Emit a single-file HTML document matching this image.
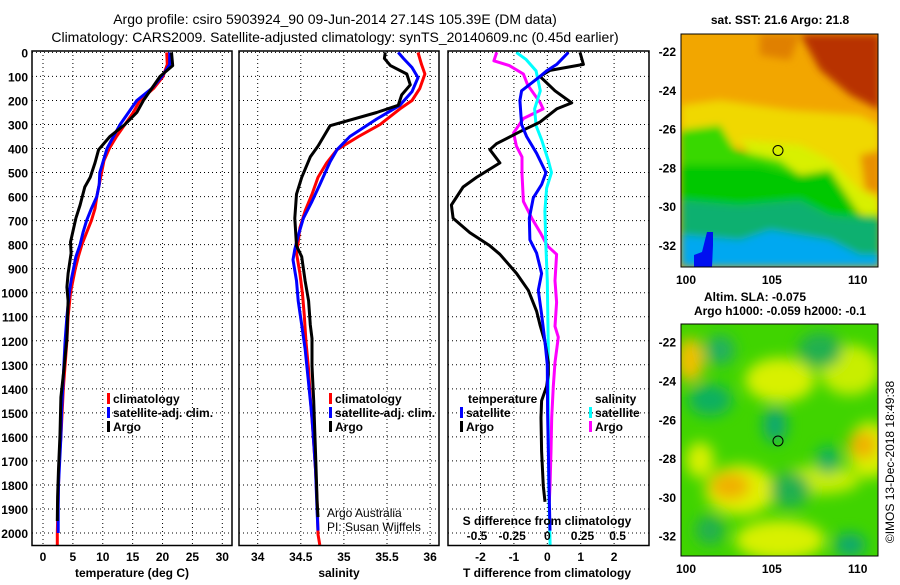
<!DOCTYPE html>
<html><head><meta charset="utf-8"><style>
body{margin:0;background:#fff;}
svg text{font-family:"Liberation Sans",sans-serif;}
.b{font-weight:bold;font-size:12px;}
</style></head><body>
<svg id="c" width="900" height="580" xmlns="http://www.w3.org/2000/svg">
<defs>
<filter id="bl" x="-30%" y="-30%" width="160%" height="160%"><feGaussianBlur stdDeviation="7"/></filter>
<filter id="bl2" x="-20%" y="-20%" width="140%" height="140%"><feGaussianBlur stdDeviation="4"/></filter>
<clipPath id="cm1"><rect x="681" y="34" width="197" height="233"/></clipPath>
<clipPath id="cm2"><rect x="681" y="324" width="197" height="232"/></clipPath>
</defs>
<text x="335" y="24" font-size="14" text-anchor="middle">Argo profile: csiro 5903924_90 09-Jun-2014 27.14S 105.39E (DM data)</text>
<text x="335" y="42" font-size="14" text-anchor="middle">Climatology: CARS2009. Satellite-adjusted climatology: synTS_20140609.nc (0.45d earlier)</text>
<g id="plots"></g>
<g clip-path="url(#cm1)">
<rect x="681" y="34" width="197" height="233" fill="#f2a600"/>
<g filter="url(#bl2)">
<polygon points="800,34 880,34 880,110 850,95 820,70" fill="#b83000"/>
<polygon points="760,34 800,34 790,60 760,55" fill="#e08000"/>
<polygon points="681,105 720,100 790,110 860,115 880,125 880,210 850,200 800,160 760,150 681,140" fill="#f0d800"/>
<polygon points="740,140 800,145 830,160 860,190 880,200 880,225 840,200 810,175 760,170" fill="#d8f000"/>
<polygon points="681,130 720,125 735,150 780,160 800,175 780,190 681,200" fill="#38d800"/>
<polygon points="681,165 760,165 800,175 830,170 860,215 880,215 880,240 681,240" fill="#00c800"/>
<polygon points="681,200 740,205 800,200 830,215 880,220 880,267 681,267" fill="#10b070"/>
<polygon points="681,235 740,240 770,230 830,240 860,255 880,255 880,267 681,267" fill="#00a8f0"/>
<polygon points="860,155 880,150 880,195 865,190" fill="#e89000"/>
</g>
<polygon points="707,232 713,232 713,245 712,267 694,267 694,255 702,252" fill="#0010f0"/>
<circle cx="778" cy="150.5" r="5" fill="none" stroke="#000" stroke-width="1"/>
</g>
<rect x="681" y="34" width="197" height="233" fill="none" stroke="#000"/>
<text x="780" y="24" text-anchor="middle" class="b">sat. SST: 21.6 Argo: 21.8</text>
<g clip-path="url(#cm2)">
<rect x="681" y="324" width="197" height="232" fill="#40d400"/>
<g filter="url(#bl)">
<ellipse cx="780" cy="380" rx="35" ry="22" fill="#d8f000"/>
<ellipse cx="850" cy="370" rx="30" ry="25" fill="#c8ee00"/>
<ellipse cx="700" cy="460" rx="14" ry="18" fill="#d8f000"/>
<ellipse cx="740" cy="490" rx="35" ry="25" fill="#e0f000"/>
<ellipse cx="820" cy="480" rx="40" ry="14" fill="#c8ee00"/>
<ellipse cx="780" cy="540" rx="45" ry="20" fill="#d8f000"/>
<ellipse cx="870" cy="450" rx="22" ry="28" fill="#d8f000"/>
<ellipse cx="690" cy="360" rx="14" ry="22" fill="#f0c000"/>
<ellipse cx="720" cy="350" rx="15" ry="15" fill="#20b060"/>
<ellipse cx="820" cy="350" rx="22" ry="18" fill="#20b050"/>
<ellipse cx="710" cy="400" rx="22" ry="16" fill="#10b060"/>
<ellipse cx="775" cy="425" rx="12" ry="18" fill="#10a870"/>
<ellipse cx="863" cy="445" rx="14" ry="14" fill="#f0b000"/>
<ellipse cx="730" cy="486" rx="20" ry="14" fill="#f0b000"/>
<ellipse cx="828" cy="460" rx="12" ry="14" fill="#10b060"/>
<ellipse cx="790" cy="490" rx="20" ry="18" fill="#20b050"/>
<ellipse cx="710" cy="530" rx="15" ry="15" fill="#20b050"/>
<ellipse cx="850" cy="545" rx="16" ry="12" fill="#10a870"/>
</g>
<circle cx="778" cy="441" r="5" fill="none" stroke="#000" stroke-width="1"/>
</g>
<rect x="681" y="324" width="197" height="232" fill="none" stroke="#000"/>
<text x="755" y="301" text-anchor="middle" class="b">Altim. SLA: -0.075</text>
<text x="780" y="315" text-anchor="middle" class="b">Argo h1000: -0.059 h2000: -0.1</text>
<text transform="translate(894,462) rotate(-90)" text-anchor="middle" font-size="12">©IMOS 13-Dec-2018 18:49:38</text>
<text x="327" y="517" font-size="12">Argo Australia</text>
<text x="327" y="531" font-size="12">PI: Susan Wijffels</text>
</svg>
<script>
// temperature (deg C)
const depths=[0,50,100,150,200,250,300,350,400,450,500,550,600,650,700,750,800,850,900,950,1000,1100,1200,1300,1400,1500,1600,1700,1800,1900,2000,2050];
const tClim=[20.7,20.8,20.1,18.5,16.2,15.1,13.7,12.3,11.1,10.2,9.8,9.4,9.0,8.7,8.1,7.3,6.5,5.9,5.4,5.0,4.6,4.2,4.0,3.7,3.4,3.2,3.0,2.7,2.6,2.5,2.4,2.4];
const tSat=[21.2,21.2,19.9,18.2,15.7,14.3,12.9,11.8,10.7,10.1,9.5,9.4,9.0,8.1,7.3,6.7,6.2,5.5,5.1,4.7,4.4,4.0,3.7,3.5,3.3,3.1,3.0,2.8,2.6,2.55,2.55];
const tArgoDepth=[0,55,100,150,200,250,300,350,405,460,520,560,635,690,790,835,920,977,1034,1190,1320,1435,1590,1735,1850,1950];
const tArgo=[21.5,21.7,19.6,18.2,16.8,15.7,13.7,11.2,9.3,8.7,7.9,7.0,6.2,5.5,4.6,4.7,4.2,4.0,4.2,4.0,3.5,3.0,2.85,2.6,2.45,2.4];
// salinity
const sClimDepth=[0,50,90,150,200,235,300,350,405,460,520,590,660,730,790,835,920,1005,1090,1205,1320,1435,1575,1735,1880,2005,2050];
const sClim=[35.86,35.90,35.94,35.88,35.79,35.65,35.42,35.17,34.92,34.8,34.7,34.63,34.55,34.49,34.47,34.45,34.49,34.52,34.54,34.56,34.59,34.61,34.64,34.67,34.69,34.7,34.72];
const sSatDepth=[0,25,63,105,163,220,277,350,405,455,550,620,690,763,820,863,950,1034,1134,1234,1377,1520,1734,1920,1990];
const sSat=[35.63,35.69,35.79,35.86,35.79,35.65,35.38,35.07,34.92,34.84,34.72,34.63,34.53,34.47,34.43,34.41,34.45,34.47,34.51,34.55,34.59,34.63,34.67,34.69,34.7];
const sArgoDepth=[0,25,55,90,135,177,220,250,305,390,435,520,590,690,805,850,950,1034,1134,1190,1305,1450,1663,1877,1934];
const sArgo=[35.48,35.47,35.54,35.73,35.77,35.67,35.63,35.38,34.84,34.7,34.61,34.51,34.45,34.43,34.45,34.51,34.55,34.59,34.61,34.63,34.63,34.65,34.67,34.69,34.7];
// differences
const dTArgoDepth=[0,50,75,100,160,210,235,290,330,380,405,460,520,560,635,690,750,805,840,920,990,1077,1134,1206,1290,1340,1390,1450,1520,1660,1805,1870];
const dTArgo=[0.98,1.08,0.08,-0.22,0.23,0.73,0.28,-0.22,-0.82,-1.52,-1.72,-1.42,-2.12,-2.52,-2.87,-2.82,-2.32,-1.72,-1.42,-0.92,-0.57,-0.32,-0.22,-0.07,0.03,0.03,-0.02,-0.17,-0.19,-0.17,-0.12,-0.07];
const dTSatDepth=[0,50,77,100,160,200,300,350,420,500,550,605,690,780,835,920,990,1090,1205,1300,1500,1800,1990];
const dTSat=[0.63,0.28,-0.02,-0.22,-0.77,-0.82,-0.77,-0.62,-0.32,-0.04,-0.17,-0.42,-0.54,-0.52,-0.32,-0.17,-0.27,-0.17,-0.07,0,0.01,0.05,0.08];
const dSArgoDepth=[0,35,55,90,135,210,235,275,335,390,435,505,620,690,750,805,840,950,1040,1140,1185,1290,1390,1520,1660,1805,1870];
const dSArgo=[-0.36,-0.38,-0.27,-0.17,-0.14,-0.05,-0.03,-0.17,-0.24,-0.22,-0.18,-0.18,-0.17,-0.11,-0.05,0,0.066,0.055,0.066,0.055,0.078,0.055,0.043,0.031,0.026,0.019,0.014];
const dSSatDepth=[0,30,77,160,235,305,365,450,500,565,660,805,950,1230,1520,1800,2050];
const dSSat=[-0.22,-0.15,-0.08,-0.05,-0.09,-0.08,-0.04,0.007,0.03,-0.005,-0.017,-0.01,0,0.007,0.007,0.01,0.02];
const depthTicks=[0,100,200,300,400,500,600,700,800,900,1000,1100,1200,1300,1400,1500,1600,1700,1800,1900,2000];
const tTicks=[0,5,10,15,20,25,30];
const sTicks=[34,34.5,35,35.5,36];
const dTTicks=[-2,-1,0,1,2];
const dSTicks=[-0.5,-0.25,0,0.25,0.5];
const latTicks=[-22,-24,-26,-28,-30,-32];
const lonTicks=[100,105,110];

const NS='http://www.w3.org/2000/svg';
const g=document.getElementById('plots');
function mk(t,a,p){const e=document.createElementNS(NS,t);for(const k in a)e.setAttribute(k,a[k]);(p||g).appendChild(e);return e;}
const yD=d=>52.4+d*0.2403;
const xT=v=>43+v*5.977;
const xS=v=>257.7+(v-34)*86.2;
const xDT=v=>547.3+v*33.4;
const xDS=v=>547.3+v*140.6;
const TOP=51,BOT=545.5;
const panels=[[32,232],[239,439],[448,649]];
panels.forEach((p,i)=>{
  depthTicks.forEach(d=>{
    const l=mk('line',{x1:p[0],x2:p[1],y1:yD(d),y2:yD(d),stroke:'#000','stroke-width':1,'stroke-dasharray':'1,3'});
    
    
  });
});
function vgrid(ticks,fx,name){ticks.forEach(v=>{const l=mk('line',{x1:fx(v),x2:fx(v),y1:TOP,y2:BOT,stroke:'#000','stroke-width':1,'stroke-dasharray':'1,3'});

});}
vgrid(tTicks,xT,'temperature-gridline');vgrid(sTicks,xS,'salinity-gridline');vgrid(dTTicks,xDT,'tdiff-gridline');
function line(xs,ds,f,col,name){
  const pts=xs.map((v,i)=>f(v).toFixed(1)+','+yD(ds[i]).toFixed(1)).join(' ');
  const e=mk('polyline',{points:pts,fill:'none',stroke:col,'stroke-width':3,'stroke-linejoin':'round'});
  
  
}
line(tClim,depths,xT,'#ff0000','temperature-climatology-line');
line(tSat,depths,xT,'#0000ff','temperature-satellite-line');
line(tArgo,tArgoDepth,xT,'#000000','temperature-argo-line');
line(sClim,sClimDepth,xS,'#ff0000','salinity-climatology-line');
line(sSat,sSatDepth,xS,'#0000ff','salinity-satellite-line');
line(sArgo,sArgoDepth,xS,'#000000','salinity-argo-line');
line(dSArgo,dSArgoDepth,xDS,'#ff00ff','sdiff-argo-line');
line(dSSat,dSSatDepth,xDS,'#00ffff','sdiff-satellite-line');
line(dTArgo,dTArgoDepth,xDT,'#000000','tdiff-argo-line');
line(dTSat,dTSatDepth,xDT,'#0000ff','tdiff-satellite-line');
panels.forEach(p=>{const r=mk('rect',{x:p[0],y:TOP,width:p[1]-p[0],height:BOT-TOP,fill:'none',stroke:'#000','stroke-width':1.5});

});
function txt(x,y,s,anchor,name,cls){const t=mk('text',{x:x,y:y,'text-anchor':anchor||'middle',class:cls||'b'});t.textContent=s;

return t;}
depthTicks.forEach(d=>txt(28,yD(d)+5,String(d),'end','depth-tick-label'));
tTicks.forEach(v=>txt(xT(v),561,String(v),'middle','temperature-tick-label'));
sTicks.forEach(v=>txt(xS(v),561,String(v),'middle','salinity-tick-label'));
dTTicks.forEach(v=>txt(xDT(v),561,String(v),'middle','tdiff-tick-label'));
dSTicks.forEach(v=>txt(xDS(v),540,String(v),'middle','sdiff-tick-label'));
txt(132,577,'temperature (deg C)','middle','temperature-axis-title');
txt(339,577,'salinity','middle','salinity-axis-title');
txt(547,577,'T difference from climatology','middle','tdiff-axis-title');
txt(547,525,'S difference from climatology','middle','sdiff-axis-title');
function leg(x,y,col,s,name){const r=mk('rect',{x:x,y:y-10,width:3,height:11,fill:col});


txt(x+6,y,s,'start',name);}
leg(107,403,'#ff0000','climatology','temp-legend-climatology');
leg(107,417,'#0000ff','satellite-adj. clim.','temp-legend-satellite');
leg(107,431,'#000000','Argo','temp-legend-argo');
leg(329,403,'#ff0000','climatology','sal-legend-climatology');
leg(329,417,'#0000ff','satellite-adj. clim.','sal-legend-satellite');
leg(329,431,'#000000','Argo','sal-legend-argo');
txt(468,403,'temperature','start','diff-legend-temperature-header');
txt(595,403,'salinity','start','diff-legend-salinity-header');
leg(460,417,'#0000ff','satellite','diff-legend-tsat');
leg(460,431,'#000000','Argo','diff-legend-targo');
leg(589,417,'#00ffff','satellite','diff-legend-ssat');
leg(589,431,'#ff00ff','Argo','diff-legend-sargo');
const maps=[{y0:51,x0:686,bot:267},{y0:341.7,x0:686,bot:556}];
maps.forEach(m=>{
  latTicks.forEach(v=>{const y=m.y0+(-22-v)*19.4;txt(676,y+5,String(v),'end','map-lat-label');
   mk('line',{x1:681,x2:685,y1:y,y2:y,stroke:'#000'});mk('line',{x1:874,x2:878,y1:y,y2:y,stroke:'#000'});});
  lonTicks.forEach(v=>{const x=m.x0+(v-100)*17.17;txt(x,m.bot+17,String(v),'middle','map-lon-label');
   mk('line',{x1:x,x2:x,y1:m.bot-4,y2:m.bot,stroke:'#000'});});
});
</script>
</body></html>
